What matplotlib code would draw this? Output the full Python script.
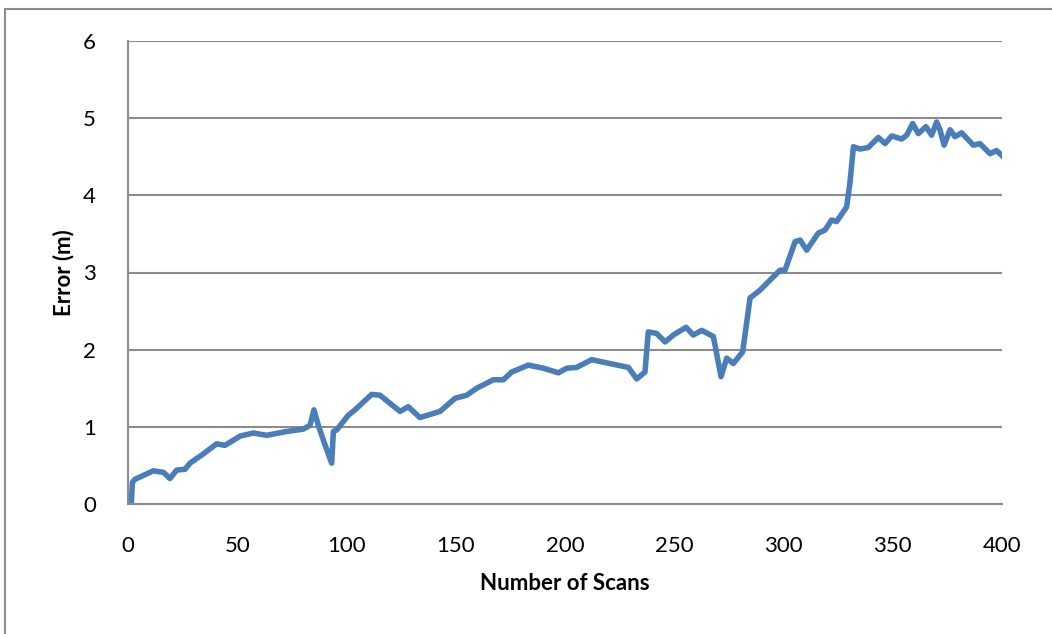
import matplotlib
matplotlib.use("Agg")
import matplotlib.pyplot as plt
from matplotlib.lines import Line2D

# error of the scan matching against number of scans
scans = [1.5, 2.0, 3.2, 7, 11.6, 16.2, 19.2, 22.3, 26.1, 28.4, 34, 40.6, 44.4, 51.3, 57.4,
         63.5, 72.6, 80.2, 83.3, 85.1, 87.1, 90, 93.2, 94.0, 95.5, 100.8, 103.9, 111.5,
         115.3, 124.5, 128.3, 133.6, 142.8, 149.7, 155, 159.6, 167.2, 171.8, 175.6, 183.2,
         190.1, 197, 200.8, 205.3, 212.2, 220.6, 229, 232.8, 236.6, 238.1, 241.9, 245.8,
         249.6, 255.4, 258.7, 262.6, 267.9, 269.4, 271.4, 274, 277, 281.3, 284.7, 289.2,
         293.8, 298.4, 300.7, 305.3, 307.6, 310.6, 315.9, 319, 322, 324.3, 328.9, 330.4,
         332, 335, 338.8, 343.4, 346.5, 349.5, 354.1, 356.4, 359.1, 361.7, 365.2, 367.8,
         370.1, 371.6, 373.5, 376.2, 378.5, 381.5, 386.9, 389.9, 394.5, 397.5, 399.8]
error = [0.0, 0.28, 0.32, 0.37, 0.43, 0.41, 0.33, 0.44, 0.45, 0.53, 0.64, 0.78, 0.76, 0.88, 0.92,
         0.89, 0.94, 0.97, 1.02, 1.22, 1.02, 0.78, 0.53, 0.94, 0.96, 1.15, 1.22, 1.42,
         1.41, 1.20, 1.26, 1.12, 1.20, 1.37, 1.41, 1.50, 1.61, 1.61, 1.71, 1.80,
         1.76, 1.70, 1.76, 1.77, 1.87, 1.82, 1.77, 1.62, 1.71, 2.23, 2.21, 2.10,
         2.19, 2.29, 2.19, 2.25, 2.17, 1.95, 1.65, 1.89, 1.82, 1.97, 2.67, 2.77,
         2.90, 3.03, 3.03, 3.40, 3.42, 3.29, 3.51, 3.55, 3.68, 3.66, 3.85, 4.16,
         4.63, 4.60, 4.62, 4.75, 4.67, 4.77, 4.73, 4.78, 4.93, 4.80, 4.89, 4.78,
         4.95, 4.85, 4.65, 4.85, 4.76, 4.81, 4.65, 4.67, 4.54, 4.58, 4.52]

plt.rcParams['font.family'] = ['Lato', 'DejaVu Sans']

fig = plt.figure(figsize=(10.52, 6.34), dpi=100)
ax = fig.add_axes([128/1052, 130/634, 874/1052, 463/634])

ax.plot(scans, error, color='#4A7EBB', linewidth=4, solid_joinstyle='round')

ax.set_xlim(0, 400)
ax.set_ylim(0, 6)
ax.set_xticks(range(0, 401, 50))
ax.set_yticks(range(0, 7))
ax.grid(axis='y', color='#8C8C8C', linewidth=1.5)
ax.set_axisbelow(True)
for s in ['top', 'right']:
    ax.spines[s].set_visible(False)
for s in ['left', 'bottom']:
    ax.spines[s].set_color('#8C8C8C')
    ax.spines[s].set_linewidth(1.5)
ax.tick_params(length=0, labelsize=16, pad=23)

ax.set_xlabel('Number of Scans', fontsize=16, fontweight='bold', labelpad=12)
ax.set_ylabel('Error (m)', fontsize=16, fontweight='bold', labelpad=6)

# chart area border
fig.add_artist(Line2D([5/1052, 5/1052], [0, 1 - 9/634], transform=fig.transFigure,
                      color='#8C8C8C', linewidth=1.5))
fig.add_artist(Line2D([5/1052, 1], [1 - 9/634, 1 - 9/634], transform=fig.transFigure,
                      color='#8C8C8C', linewidth=1.5))

fig.savefig('out.png', dpi=100)
